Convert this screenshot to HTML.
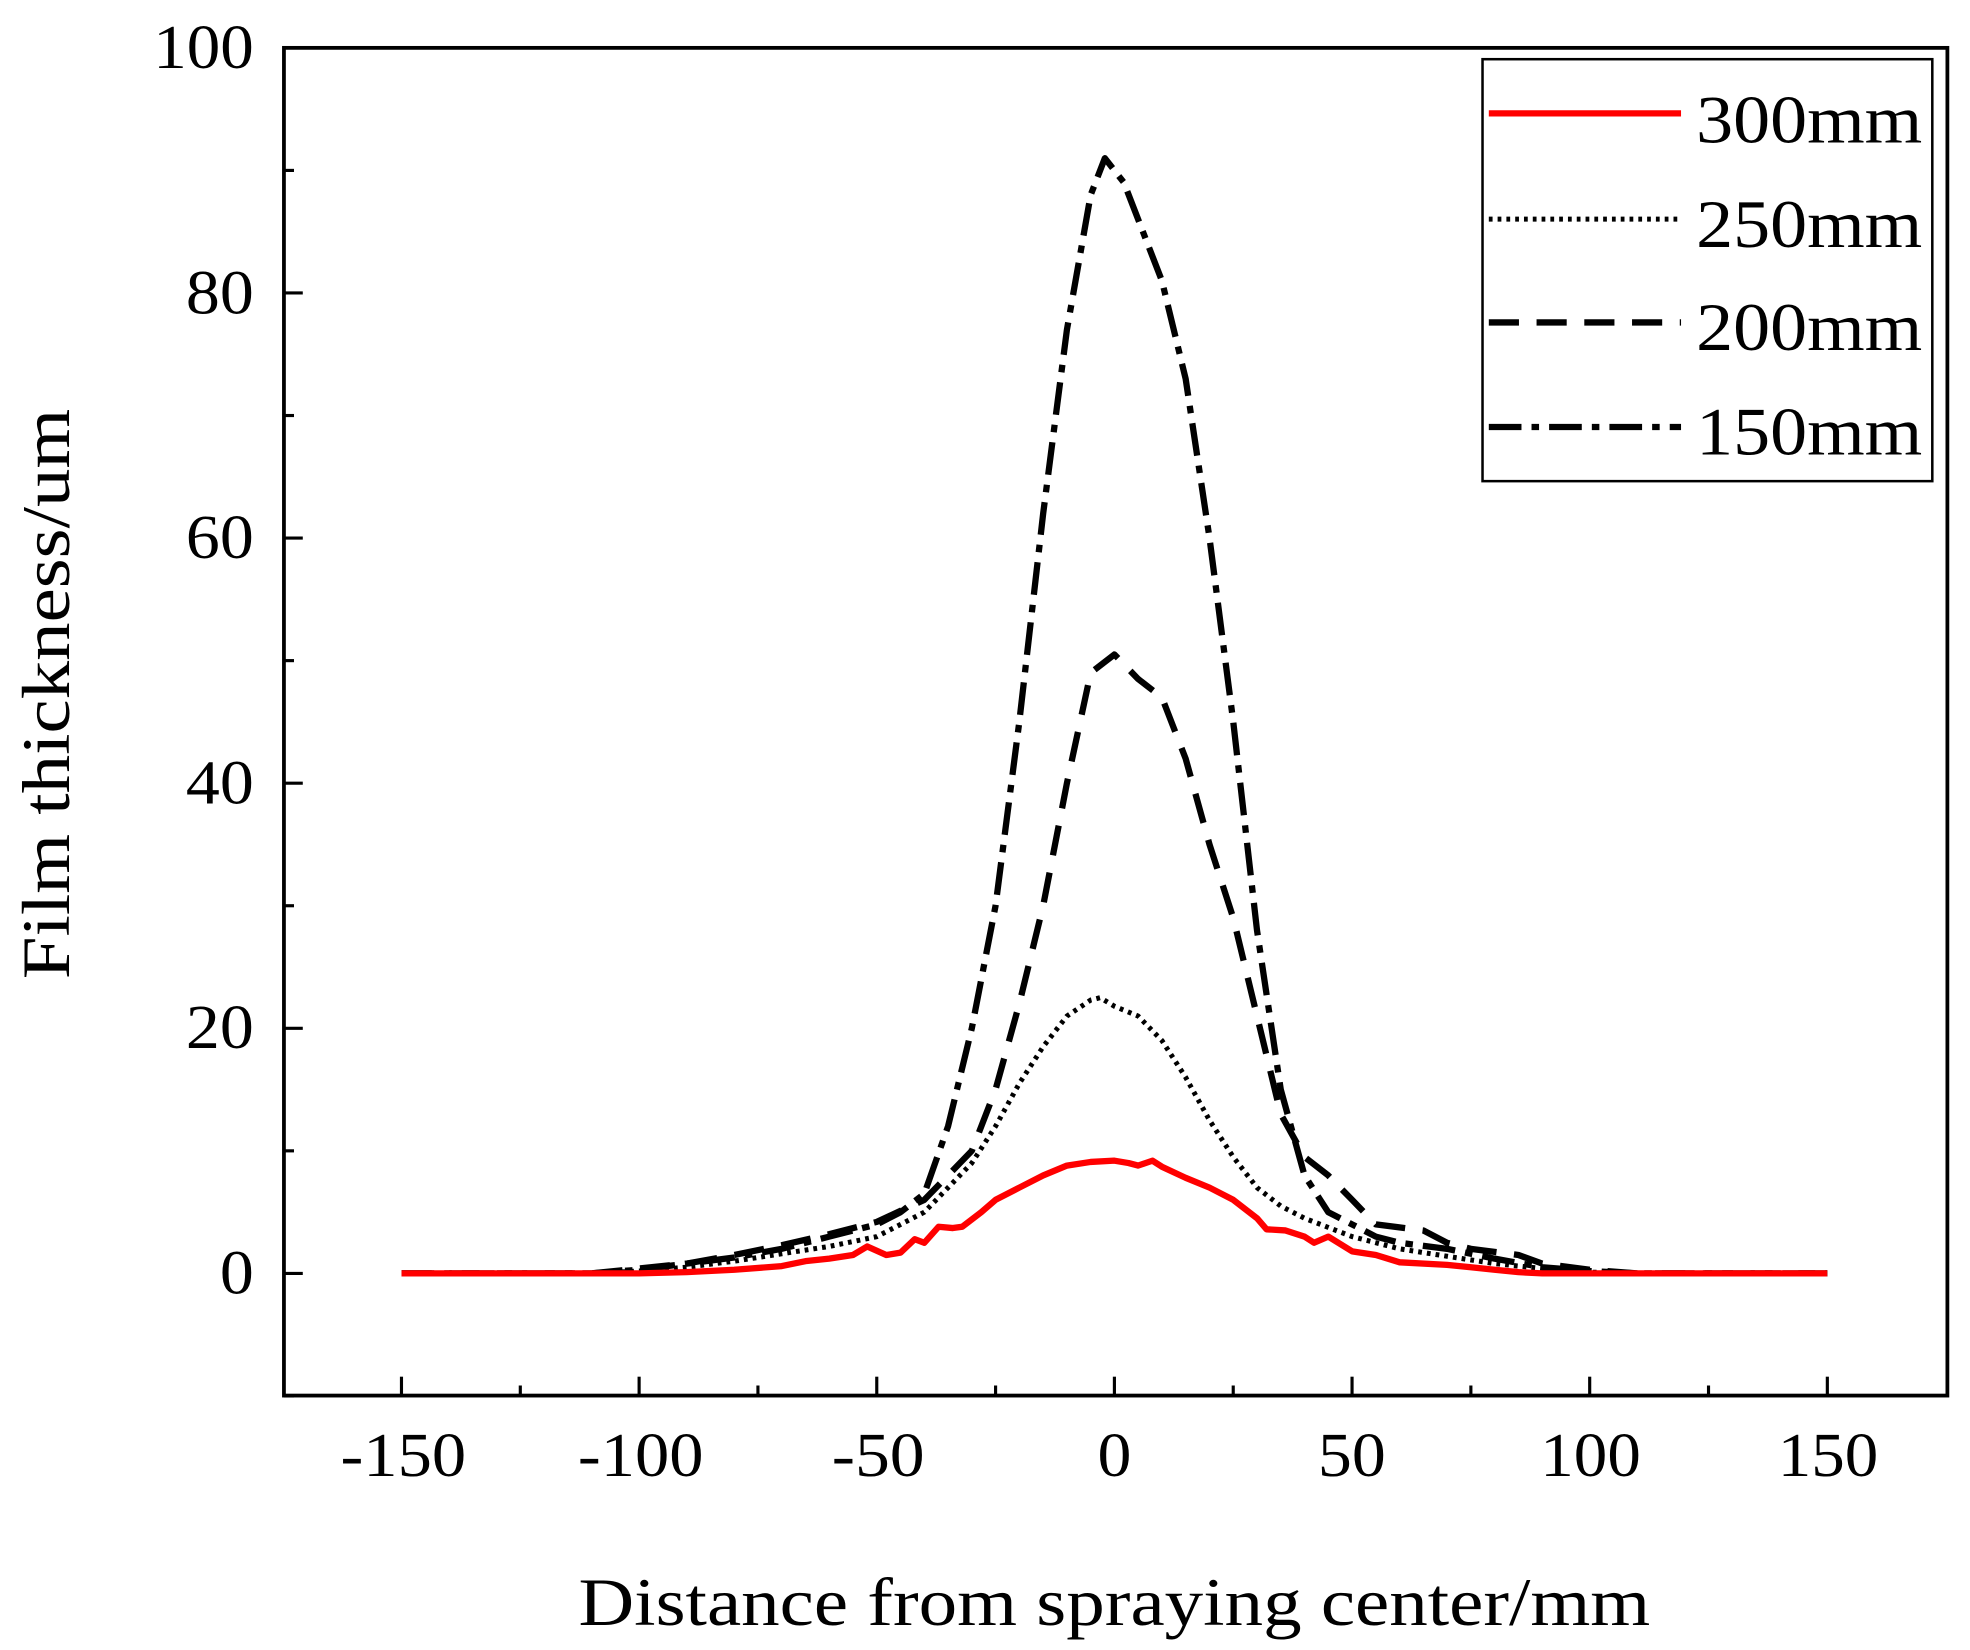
<!DOCTYPE html>
<html><head><meta charset="utf-8"><style>
html,body{margin:0;padding:0;background:#fff;}
svg{display:block;}
text{font-family:"Liberation Serif",serif;fill:#000;}
</style></head><body>
<svg id="s" width="1970" height="1650" viewBox="0 0 1568 1310" preserveAspectRatio="none" xmlns="http://www.w3.org/2000/svg">
<rect x="0" y="0" width="1568" height="1310" fill="#fff"/>
<g id="series" fill="none" stroke-linejoin="round"></g>
<rect x="226" y="38" width="1324" height="1070" fill="none" stroke="#000" stroke-width="3"/>
<g id="ticks" stroke="#000" stroke-width="2.5"></g>
<g font-size="50" text-anchor="end" lengthAdjust="spacingAndGlyphs">
<text x="202" y="54" textLength="80" lengthAdjust="spacingAndGlyphs">100</text>
<text x="202" y="249" textLength="54" lengthAdjust="spacingAndGlyphs">80</text>
<text x="202" y="443" textLength="54" lengthAdjust="spacingAndGlyphs">60</text>
<text x="202" y="638" textLength="54" lengthAdjust="spacingAndGlyphs">40</text>
<text x="202" y="832" textLength="54" lengthAdjust="spacingAndGlyphs">20</text>
<text x="202" y="1027" textLength="27" lengthAdjust="spacingAndGlyphs">0</text>
</g>
<g font-size="50" text-anchor="middle">
<text x="321" y="1172" textLength="100" lengthAdjust="spacingAndGlyphs">-150</text>
<text x="510" y="1172" textLength="100" lengthAdjust="spacingAndGlyphs">-100</text>
<text x="699" y="1172" textLength="74" lengthAdjust="spacingAndGlyphs">-50</text>
<text x="887" y="1172" textLength="27" lengthAdjust="spacingAndGlyphs">0</text>
<text x="1076" y="1172" textLength="54" lengthAdjust="spacingAndGlyphs">50</text>
<text x="1266" y="1172" textLength="80" lengthAdjust="spacingAndGlyphs">100</text>
<text x="1455" y="1172" textLength="80" lengthAdjust="spacingAndGlyphs">150</text>
</g>
<text x="887" y="1290" font-size="54" text-anchor="middle" textLength="853" lengthAdjust="spacingAndGlyphs">Distance from spraying center/mm</text>
<text transform="translate(55,551) rotate(-90)" font-size="54" text-anchor="middle" textLength="453" lengthAdjust="spacingAndGlyphs">Film thickness/um</text>
<rect x="1180" y="47" width="358" height="335" fill="#fff" stroke="#000" stroke-width="2"/>
<line x1="1185" y1="90" x2="1338" y2="90" stroke="#f00" stroke-width="5"/>
<line x1="1185" y1="174" x2="1338" y2="174" stroke="#000" stroke-width="4" stroke-dasharray="3 4"/>
<line x1="1185" y1="256" x2="1338" y2="256" stroke="#000" stroke-width="5" stroke-dasharray="24 14"/>
<line x1="1185" y1="339" x2="1338" y2="339" stroke="#000" stroke-width="5" stroke-dasharray="26 8 6 8"/>
<g font-size="54"><text x="1350" y="113" textLength="180" lengthAdjust="spacingAndGlyphs">300mm</text><text x="1350" y="196" textLength="180" lengthAdjust="spacingAndGlyphs">250mm</text><text x="1350" y="278" textLength="180" lengthAdjust="spacingAndGlyphs">200mm</text><text x="1350" y="361" textLength="180" lengthAdjust="spacingAndGlyphs">150mm</text></g>
</svg>
<script>
var X=function(v){return 887+v*3.783},Y=function(v){return 1011-v*9.73};
var ns="http://www.w3.org/2000/svg";
function line(pts,st,w,da){var p=document.createElementNS(ns,"polyline");
p.setAttribute("points",pts.map(function(a){return X(a[0]).toFixed(1)+","+Y(a[1]).toFixed(1)}).join(" "));
p.setAttribute("stroke",st);p.setAttribute("stroke-width",w);if(da)p.setAttribute("stroke-dasharray",da);
document.getElementById("series").appendChild(p);}
line([[-150,0],[-110,0],[-100,0.3],[-90,0.8],[-80,1.3],[-70,2],[-60,3],[-50,4],[-45,5],[-40,6.5],[-35,12],[-30,20],[-25,30],[-20,45],[-15,62],[-10,77],[-5,88],[-2,91],[2,89],[5,86],[10,81],[15,73],[20,60],[25,45],[30,28],[35,15],[40,8],[45,5],[50,4],[55,3],[60,2.5],[70,2],[80,1.2],[90,0.5],[100,0.2],[110,0],[150,0]],"#000",5,"26 8 6 8");
line([[-150,0],[-110,0],[-100,0.4],[-90,0.8],[-80,1.5],[-70,2.3],[-60,3.2],[-50,4.2],[-40,6],[-30,10],[-25,15],[-20,22],[-15,30],[-10,40],[-5,49],[0,50.5],[5,48.5],[10,47],[15,42],[20,35],[25,29],[30,21],[35,13],[40,9.5],[45,8],[50,6],[55,4],[65,3.5],[70,2.5],[75,2],[85,1.5],[90,0.8],[100,0.3],[110,0],[150,0]],"#000",5,"24 14");
line([[-150,0],[-110,0],[-100,0.2],[-90,0.5],[-80,1],[-70,1.6],[-60,2.2],[-50,3],[-40,5],[-30,9],[-25,12],[-20,15.5],[-15,18.5],[-10,21],[-5,22.3],[-3,22.5],[0,21.8],[5,21],[10,19],[15,16],[20,12.5],[25,9.5],[30,7],[35,5.5],[40,4.5],[50,3],[60,2],[70,1.4],[80,0.8],[90,0.4],[100,0.1],[110,0],[150,0]],"#000",4,"3 4");
line([[-150,0],[-100,0],[-90,0.1],[-80,0.3],[-70,0.6],[-65,1],[-60,1.2],[-55,1.5],[-52,2.2],[-48,1.5],[-45,1.7],[-42,2.8],[-40,2.5],[-37,3.8],[-34,3.7],[-32,3.8],[-28,5],[-25,6],[-20,7],[-15,8],[-10,8.8],[-5,9.1],[0,9.2],[3,9],[5,8.8],[8,9.2],[10,8.7],[15,7.8],[20,7],[25,6],[30,4.5],[32,3.6],[36,3.5],[40,3],[42,2.5],[45,3],[50,1.8],[55,1.5],[60,0.9],[70,0.7],[75,0.5],[80,0.3],[85,0.1],[90,0],[150,0]],"#f00",5);
var t=document.getElementById("ticks"),h="";
for(var v=-10;v<=100;v+=10){var y=Y(v);h+='<line x1="226" y1="'+y+'" x2="'+(v%20==0?241:234)+'" y2="'+y+'"/>';}
for(var v=-175;v<=175;v+=25){if(v==-175||v==175)continue;var x=X(v);h+='<line x1="'+x+'" y1="1108" x2="'+x+'" y2="'+(v%50==0?1093:1100)+'"/>';}
t.innerHTML=h;
</script>
</body></html>
